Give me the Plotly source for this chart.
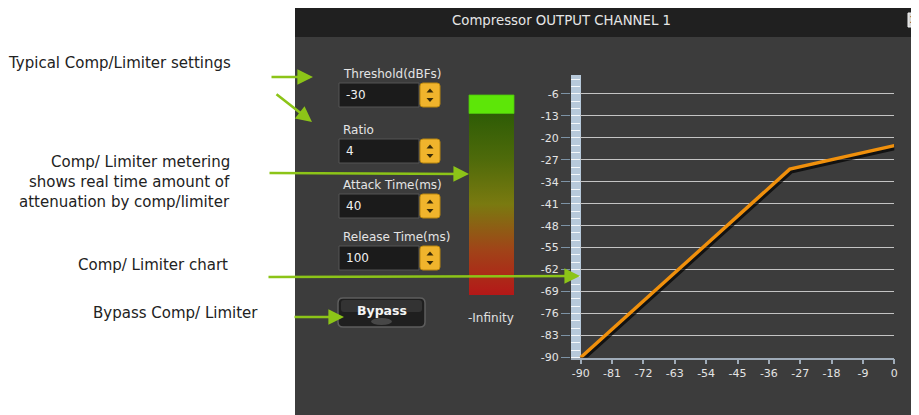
import plotly.graph_objects as go

# ---------------- data ----------------
input_db = [-90, -30, 0]            # compressor input level (dBFs)
output_db = [-90, -30, -22.5]       # output level (threshold -30, ratio 4)
x_ticks = [-90, -81, -72, -63, -54, -45, -36, -27, -18, -9, 0]
y_ticks = [-6, -13, -20, -27, -34, -41, -48, -55, -62, -69, -76, -83, -90]
setting_labels = ["Threshold(dBFs)", "Ratio", "Attack Time(ms)", "Release Time(ms)"]
setting_values = ["-30", "4", "40", "100"]
callouts = ["Typical Comp/Limiter settings", "Comp/ Limiter metering",
            "shows real time amount of", "attenuation by comp/limiter",
            "Comp/ Limiter chart", "Bypass Comp/ Limiter"]

# ---------------- geometry helpers (screen pixel -> paper) ----------------
OFF = 8                      # page body margin
SW, SH = 919, 415            # screen size
W, H = SW - OFF, SH - OFF    # figure size
def px(x): return (x - OFF) / W
def py(y): return 1 - (y - OFF) / H

shapes, annotations = [], []
GREEN = "#8cc418"
FONT = "DejaVu Sans"

def rect(x0, y0, x1, y1, fill, line=None, lw=0, layer="below"):
    shapes.append(dict(type="rect", xref="paper", yref="paper",
                       x0=px(x0), x1=px(x1), y0=py(y1), y1=py(y0),
                       fillcolor=fill, line=dict(color=line or fill, width=lw), layer=layer))

def rrect(x0, y0, x1, y1, r, fill, line, lw, layer="above"):
    rx, ry = r / W, r / H
    X0, X1, Y0, Y1 = px(x0), px(x1), py(y0), py(y1)  # Y0 top, Y1 bottom
    p = (f"M{X0+rx},{Y0} L{X1-rx},{Y0} Q{X1},{Y0} {X1},{Y0-ry} "
         f"L{X1},{Y1+ry} Q{X1},{Y1} {X1-rx},{Y1} L{X0+rx},{Y1} "
         f"Q{X0},{Y1} {X0},{Y1+ry} L{X0},{Y0-ry} Q{X0},{Y0} {X0+rx},{Y0} Z")
    shapes.append(dict(type="path", xref="paper", yref="paper", path=p,
                       fillcolor=fill, line=dict(color=line, width=lw), layer=layer))

def tri(pts, fill):
    p = "M" + " L".join(f"{px(a)},{py(b)}" for a, b in pts) + " Z"
    shapes.append(dict(type="path", xref="paper", yref="paper", path=p,
                       fillcolor=fill, line=dict(width=0), layer="above"))

def text(x, y, s, size, color, xanchor="left", bold=False, family=FONT):
    annotations.append(dict(x=px(x), y=py(y), xref="paper", yref="paper", text=s,
                            showarrow=False, xanchor=xanchor, yanchor="middle",
                            font=dict(size=size, color=color, family=family,
                                      weight="bold" if bold else "normal")))

def arrow(x0, y0, x1, y1):
    annotations.append(dict(x=px(x1), y=py(y1), xref="paper", yref="paper", text="",
                            showarrow=True, axref="pixel", ayref="pixel",
                            ax=x0 - x1, ay=y0 - y1, arrowhead=2, arrowsize=1.2,
                            arrowwidth=2.6, arrowcolor=GREEN))

# ---------------- window background ----------------
rect(295, 8, 925, 420, "#3c3c3c")
rect(295, 8, 925, 37, "#202020")
text(561, 21, "Compressor OUTPUT CHANNEL 1", 13.3, "#e6e6e6", xanchor="center")
rect(908, 13, 921, 27, "#d6d6d6", "#f2f2f2", 1, layer="above")
text(913.5, 20, "X", 9, "#222222", xanchor="center", bold=True)

# ---------------- settings controls ----------------
label_y = [74, 130, 185, 237]
for lab, val, ly in zip(setting_labels, setting_values, label_y):
    text(341, ly, lab, 12, "#e4e4e4")
    rect(339, ly + 9, 419, ly + 33, "#1b1b1b", "#555555", 1, layer="above")
    text(344, ly + 21, val, 12, "#f0f0f0")
    rrect(420, ly + 9, 440, ly + 33, 3, "#f0b42c", "#b9860e", 1)
    tri([(426.5, ly + 18.5), (433.5, ly + 18.5), (430, ly + 14.5)], "#3a2c08")
    tri([(426.5, ly + 24), (433.5, ly + 24), (430, ly + 28)], "#3a2c08")

# bypass button
rrect(338, 298, 425, 327, 5, "#1f1f1f", "#5e5e5e", 1.5)
rrect(341, 300, 422, 312, 3, "#333333", "#333333", 0)
shapes.append(dict(type="circle", xref="paper", yref="paper", x0=px(371), x1=px(392),
                   y0=py(325), y1=py(318), fillcolor="#474747", line=dict(width=0), layer="above"))
text(381.5, 310, "Bypass", 12.5, "#f4f4f4", xanchor="center", bold=True)

# meter
rect(469, 95, 514, 113.5, "#5de608", "#4fc40a", 0.8, layer="above")
text(491, 318, "-Infinity", 12, "#e0e0e0", xanchor="center")

# blue strip beside chart
rect(571, 75, 581, 357.5, "#b7c9da")

# ---------------- callouts ----------------
text(233, 63, callouts[0], 15, "#222222", xanchor="right")
text(232, 162, callouts[1], 15, "#222222", xanchor="right")
text(232, 182, callouts[2], 15, "#222222", xanchor="right")
text(232, 202, callouts[3], 15, "#222222", xanchor="right")
text(230, 265, callouts[4], 15, "#222222", xanchor="right")
text(260, 313, callouts[5], 15, "#222222", xanchor="right")
arrow(270, 77, 313, 77)
arrow(275, 93, 312, 122)
arrow(268, 173, 469, 174)
arrow(267, 277, 580, 276)
arrow(293, 317, 344, 317)

# ---------------- traces ----------------
fig = go.Figure()
# meter gradient (pixel-space overlay axes)
fig.add_trace(go.Scatter(x=[469, 514, 514, 469, 469], y=[113.5, 113.5, 295, 295, 113.5],
                         xaxis="x2", yaxis="y2", mode="lines", line=dict(width=0),
                         fill="toself", hoverinfo="skip", showlegend=False,
                         fillgradient=dict(type="vertical", start=113.5, stop=295,
                                           colorscale=[[0, "#2e5c06"], [0.25, "#4e6a0a"],
                                                       [0.5, "#7a7a10"], [0.75, "#a04418"],
                                                       [1, "#b41818"]])))
# transfer curve shadow + curve
fig.add_trace(go.Scatter(x=[v + 0.35 for v in input_db], y=[v - 0.6 for v in output_db],
                         mode="lines", line=dict(color="rgba(0,0,0,0.7)", width=5),
                         hoverinfo="skip", showlegend=False, cliponaxis=False))
fig.add_trace(go.Scatter(x=input_db, y=output_db, mode="lines",
                         line=dict(color="#f0900c", width=3.4), showlegend=False,
                         cliponaxis=False))

x0_px, x1_px = 571, 894.3
x_per_px = 90 / (894.3 - 580.7)
fig.update_layout(
    template="none", width=W, height=H,
    margin=dict(l=0, r=0, t=0, b=0),
    paper_bgcolor="white", plot_bgcolor="rgba(0,0,0,0)",
    shapes=shapes, annotations=annotations, showlegend=False,
    xaxis=dict(domain=[px(x0_px), px(x1_px)],
               range=[-90 - (580.7 - 571) * x_per_px, 0],
               tickvals=x_ticks, ticktext=[str(v) for v in x_ticks],
               showgrid=False, zeroline=False, showline=True, linecolor="#9fabb8",
               linewidth=1.5, ticks="outside", ticklen=5, tickwidth=1.5, tickcolor="#9fabb8",
               tickfont=dict(family=FONT, size=11, color="#e4e4e4"), automargin=False),
    yaxis=dict(domain=[py(357.5), py(75)], range=[-90, 0],
               tickvals=y_ticks, ticktext=[str(v) for v in y_ticks],
               showgrid=True, gridcolor="#c4c4c4", gridwidth=1.3, zeroline=False,
               showline=False, ticks="outside", ticklen=9, tickwidth=1.3, tickcolor="#7d93a5",
               tickfont=dict(family=FONT, size=11, color="#e4e4e4"), automargin=False,
               minor=dict(ticks="inside", ticklen=9, tickwidth=1.3, tickcolor="#f4f8fb",
                          tick0=-6, dtick=7 / 3, showgrid=False)),
    xaxis2=dict(domain=[0, 1], range=[OFF, OFF + W], visible=False, anchor="y2", fixedrange=True),
    yaxis2=dict(domain=[0, 1], range=[OFF + H, OFF], visible=False, anchor="x2", fixedrange=True),
)
fig.write_html("out.html")
